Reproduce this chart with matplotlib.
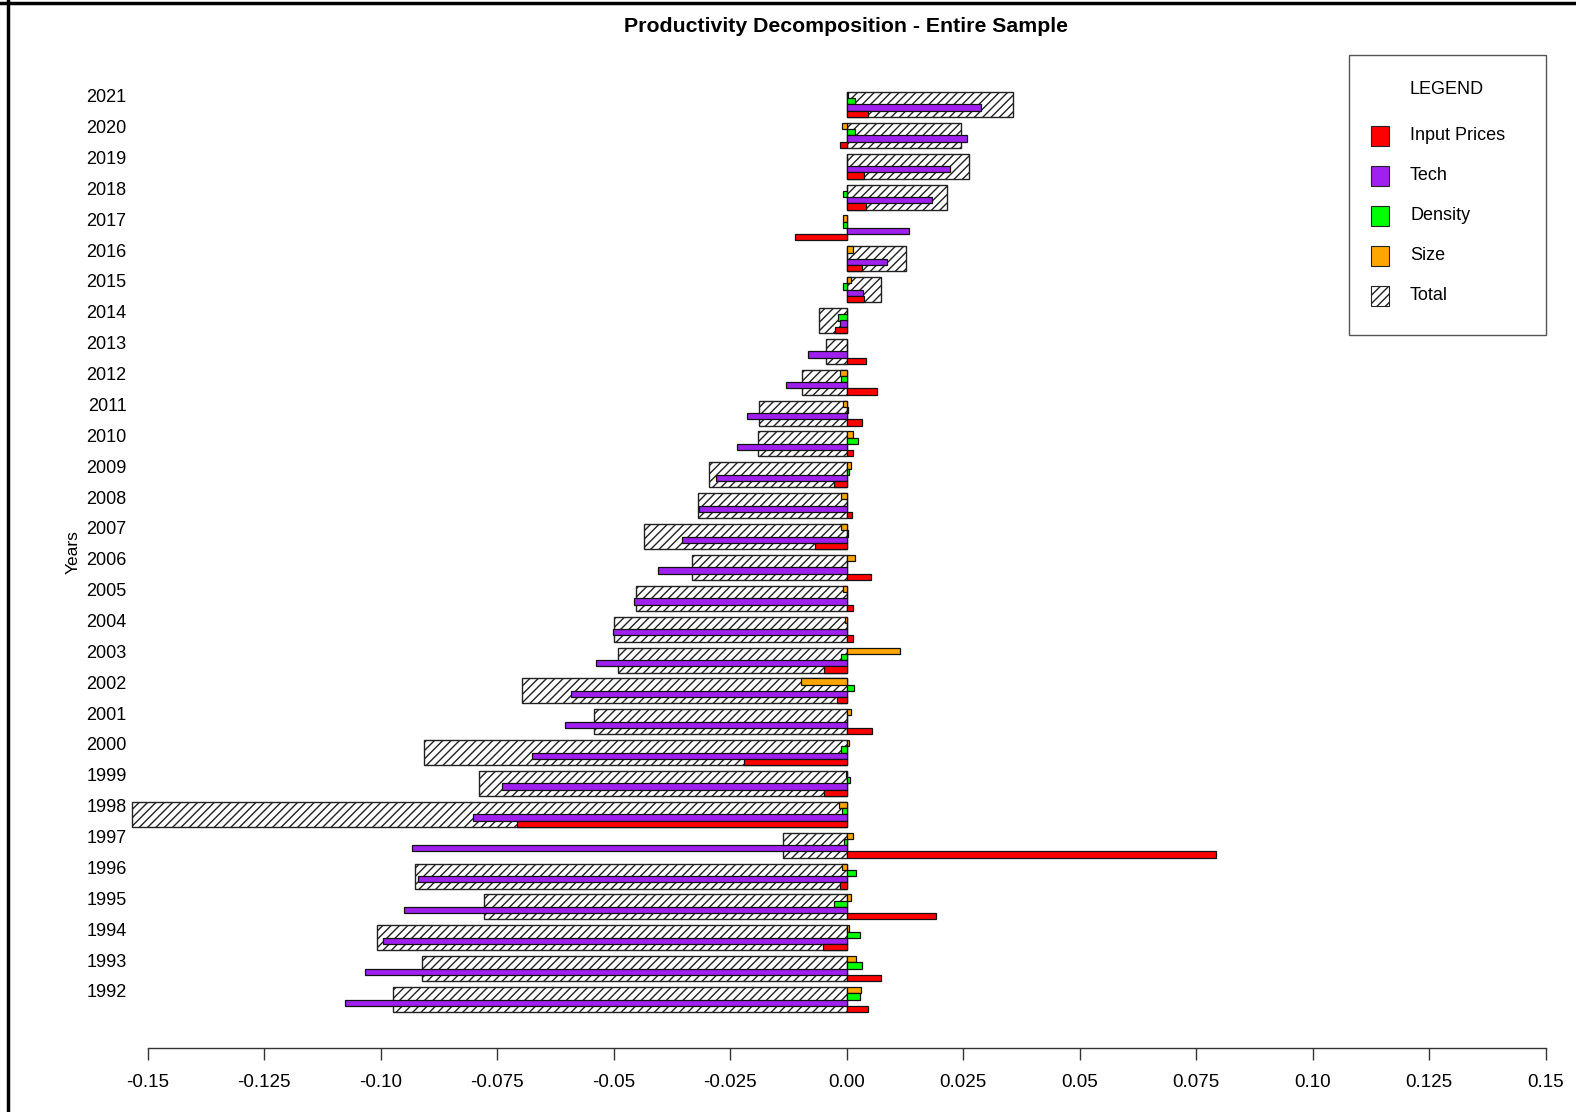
import numpy as np
import matplotlib
matplotlib.use("Agg")
import matplotlib.pyplot as plt
from matplotlib.patches import Rectangle
from matplotlib.lines import Line2D

plt.rcParams['font.family'] = ['Liberation Sans', 'DejaVu Sans']
plt.rcParams['hatch.linewidth'] = 1.0
plt.rcParams['hatch.color'] = '#222222'

# 1) data: yearly decomposition of productivity change
years = list(range(1992, 2022))

total = [-0.0974, -0.0911, -0.1008, -0.0777, -0.0927, -0.0136, -0.1534, -0.0789,
         -0.0906, -0.0541, -0.0697, -0.0490, -0.0498, -0.0452, -0.0332, -0.0435,
         -0.0318, -0.0295, -0.0189, -0.0187, -0.0095, -0.0045, -0.0058, 0.0075,
         0.0128, 0.0000, 0.0215, 0.0262, 0.0245, 0.0357]
input_prices = [0.0047, 0.0074, -0.0050, 0.0193, -0.0015, 0.0792, -0.0708, -0.0048,
                -0.0220, 0.0055, -0.0021, -0.0048, 0.0015, 0.0013, 0.0052, -0.0068,
                0.0012, -0.0026, 0.0014, 0.0033, 0.0065, 0.0042, -0.0025, 0.0038,
                0.0033, -0.0111, 0.0042, 0.0038, -0.0015, 0.0047]
tech = [-0.1076, -0.1033, -0.0994, -0.0950, -0.0919, -0.0933, -0.0801, -0.0740,
        -0.0674, -0.0605, -0.0592, -0.0538, -0.0502, -0.0456, -0.0404, -0.0354,
        -0.0316, -0.0279, -0.0236, -0.0214, -0.0130, -0.0082, -0.0014, 0.0036,
        0.0086, 0.0134, 0.0183, 0.0222, 0.0258, 0.0289]
density = [0.0029, 0.0033, 0.0030, -0.0026, 0.0020, -0.0005, -0.0009, 0.0008,
           -0.0012, 0.0002, 0.0017, -0.0012, 0.0002, 0.0002, 0.0001, 0.0003,
           0.0002, 0.0005, 0.0024, 0.0004, -0.0012, 0.0002, -0.0018, -0.0007,
           0.0001, -0.0007, -0.0008, 0.0001, 0.0018, 0.0018]
size = [0.0031, 0.0020, 0.0006, 0.0009, -0.0010, 0.0013, -0.0017, -0.0002,
        0.0005, 0.0010, -0.0098, 0.0114, -0.0003, -0.0008, 0.0018, -0.0011,
        -0.0012, 0.0010, 0.0013, -0.0008, -0.0015, 0.0002, 0.0001, 0.0010,
        0.0015, -0.0008, 0.0001, 0.0002, -0.0010, 0.0004]

x_ticks = [-0.15, -0.125, -0.10, -0.075, -0.05, -0.025, 0.00, 0.025, 0.05, 0.075, 0.10, 0.125, 0.15]
x_tick_labels = ["-0.15", "-0.125", "-0.10", "-0.075", "-0.05", "-0.025", "0.00",
                 "0.025", "0.05", "0.075", "0.10", "0.125", "0.15"]

components = [
    ("Size", size, "#FFA500", 0.304),
    ("Density", density, "#00FF00", 0.101),
    ("Tech", tech, "#A020F0", -0.101),
    ("Input Prices", input_prices, "#FF0000", -0.304),
]

W, H = 1576, 1112
fig = plt.figure(figsize=(W / 100, H / 100), dpi=100)


def fx(px):
    return px / W


def fy(py):
    return 1 - py / H


ax = fig.add_axes([fx(124.2), fy(1048.3), (1568.8 - 124.2) / W, (1048.3 - 60) / H])

pos = np.arange(len(years))

# 2) hatched total bars underneath, component bars on top
ax.barh(pos, total, height=0.81, color='none', edgecolor='#222222',
        hatch='////', linewidth=1.0, zorder=1)
for name, vals, col, off in components:
    ax.barh(pos + off, vals, height=0.2025, color=col, edgecolor='#111111',
            linewidth=0.9, zorder=2)

ax.set_xlim(-0.155, 0.155)
ax.set_ylim(-1.58, 30.44)

for s in ['top', 'right', 'left']:
    ax.spines[s].set_visible(False)
ax.spines['bottom'].set_bounds(-0.15, 0.15)
ax.spines['bottom'].set_color('#333333')
ax.spines['bottom'].set_linewidth(1.0)

ax.set_xticks(x_ticks)
ax.set_xticklabels(x_tick_labels, fontsize=13.5)
ax.tick_params(axis='x', length=8.5, width=1.0, color='#333333', pad=10)

ax.set_yticks(pos + 0.28)
ax.set_yticklabels([str(y) for y in years], fontsize=13)
ax.tick_params(axis='y', length=0, pad=-1.7)

fig.text(fx(846.5), fy(26), "Productivity Decomposition - Entire Sample",
         ha='center', va='center', fontsize=15.3, fontweight='bold')
fig.text(fx(73), fy(552), "Years", rotation=90, ha='center', va='center', fontsize=12.5)

# 3) legend box
fig.add_artist(Rectangle((fx(1349), fy(335)), (1546 - 1349) / W, (335 - 55) / H,
                         transform=fig.transFigure, facecolor='white',
                         edgecolor='#555555', linewidth=1.0))
fig.text(fx(1447), fy(90), "LEGEND", ha='center', va='center', fontsize=13)
legend_items = [("Input Prices", "#FF0000", None), ("Tech", "#A020F0", None),
                ("Density", "#00FF00", None), ("Size", "#FFA500", None),
                ("Total", "none", "////")]
for k, (lab, col, hat) in enumerate(legend_items):
    yc = 135.7 + k * 40.0
    fig.add_artist(Rectangle((fx(1371), fy(yc + 10)), 18 / W, 20 / H,
                             transform=fig.transFigure, facecolor=col,
                             edgecolor='#222222', hatch=hat, linewidth=0.8))
    fig.text(fx(1410), fy(yc), lab, ha='left', va='center', fontsize=13)

# 4) outer frame on top and left
fig.add_artist(Line2D([0, 1], [fy(3), fy(3)], transform=fig.transFigure,
                      color='black', linewidth=2.5))
fig.add_artist(Line2D([fx(8), fx(8)], [0, 1], transform=fig.transFigure,
                      color='black', linewidth=2.5))

fig.savefig("out.png", dpi=100)
